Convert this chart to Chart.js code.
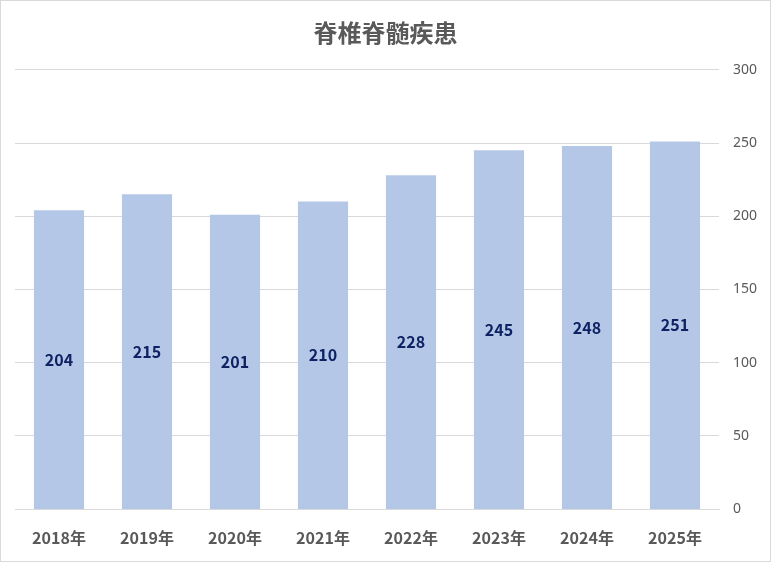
<!DOCTYPE html>
<html>
<head>
<meta charset="utf-8">
<script src="https://cdn.jsdelivr.net/npm/chart.js@4"></script>
<style>
  html, body { margin: 0; padding: 0; background: #fff; }
  #wrap { width: 771px; height: 562px; position: relative; }
</style>
</head>
<body>
<div id="wrap"><canvas id="chart"></canvas></div>
<script>
const chartTitle = '脊椎脊髄疾患';
const categories = ['2018年', '2019年', '2020年', '2021年', '2022年', '2023年', '2024年', '2025年'];
const patientCounts = [204, 215, 201, 210, 228, 245, 248, 251];
const yTicks = [0, 50, 100, 150, 200, 250, 300];

const JP_FONT = '"Noto Sans CJK JP", "Noto Sans", sans-serif';

// Value labels centred inside each bar
const barLabels = {
  id: 'barLabels',
  afterDatasetsDraw(chart) {
    const ctx = chart.ctx;
    const meta = chart.getDatasetMeta(0);
    ctx.save();
    ctx.font = 'bold 16px ' + JP_FONT;
    ctx.fillStyle = '#0E2263';
    ctx.textAlign = 'center';
    ctx.textBaseline = 'middle';
    meta.data.forEach((bar, i) => {
      const mid = (bar.y + bar.base) / 2;
      ctx.fillText(patientCounts[i], bar.x, mid);
    });
    ctx.restore();
  }
};

// Outer frame of the chart
const frame = {
  id: 'frame',
  afterDraw(chart) {
    const ctx = chart.ctx;
    ctx.save();
    ctx.strokeStyle = '#D9D9D9';
    ctx.lineWidth = 1;
    ctx.strokeRect(0.5, 0.5, chart.width - 1, chart.height - 1);
    ctx.restore();
  }
};

new Chart(document.getElementById('chart'), {
  type: 'bar',
  data: {
    labels: categories,
    datasets: [{
      data: patientCounts,
      backgroundColor: '#B4C7E7',
      barPercentage: 0.57,
      categoryPercentage: 1
    }]
  },
  options: {
    responsive: true,
    maintainAspectRatio: false,
    animation: false,
    layout: { padding: { top: 14, left: 0, right: 0, bottom: 16 } },
    plugins: {
      legend: { display: false },
      tooltip: { enabled: false },
      title: {
        display: true,
        text: chartTitle,
        color: '#595959',
        font: { family: JP_FONT, size: 24, weight: 'bold', lineHeight: 1.2 },
        padding: { top: 4, bottom: 23 }
      }
    },
    scales: {
      x: {
        grid: { display: false, drawTicks: false },
        border: { color: '#D9D9D9' },
        ticks: {
          color: '#595959',
          padding: 19,
          font: { family: JP_FONT, size: 16, weight: 'bold' }
        },
        afterFit(scale) { scale.height = 37; }
      },
      // empty spacer on the left so the title stays centred on the whole canvas
      spacer: {
        type: 'linear',
        position: 'left',
        display: true,
        grid: { display: false, drawTicks: false },
        border: { display: false },
        ticks: { display: false },
        afterFit(scale) { scale.width = 15; }
      },
      y: {
        position: 'right',
        min: 0,
        max: 300,
        afterBuildTicks(scale) { scale.ticks = yTicks.map(v => ({ value: v })); },
        grid: { color: '#D9D9D9', drawTicks: false },
        border: { display: false },
        ticks: {
          color: '#595959',
          padding: 14,
          font: { family: '"Noto Sans", sans-serif', size: 14 }
        },
        afterFit(scale) { scale.width = 52; }
      }
    }
  },
  plugins: [barLabels, frame]
});
</script>
</body>
</html>
